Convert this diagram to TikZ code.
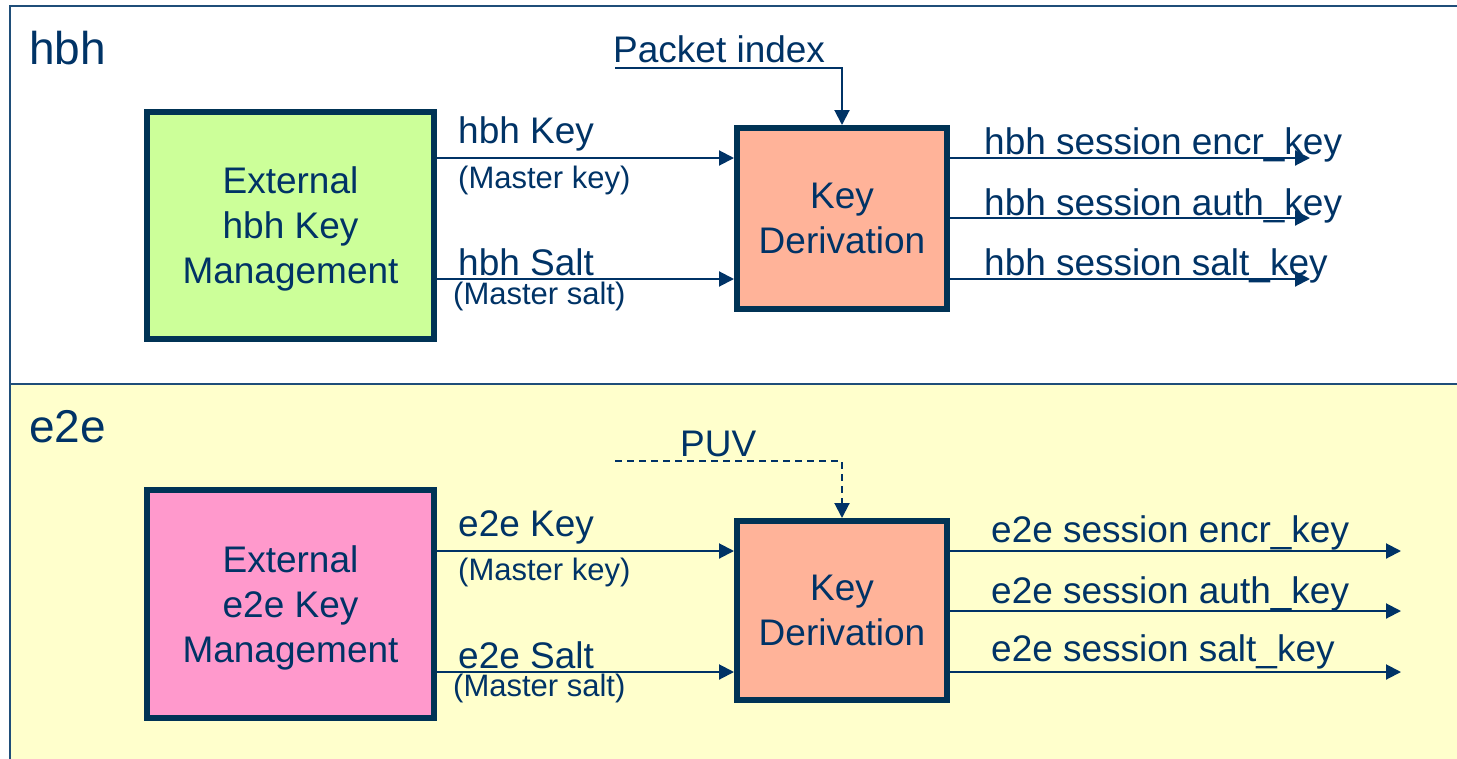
\documentclass[tikz,border=0pt]{standalone}
\usepackage{fontspec}
\setmainfont{Liberation Sans}
\usetikzlibrary{arrows.meta}
\definecolor{navy}{HTML}{003366}
\definecolor{boxline}{HTML}{003355}
\definecolor{panelline}{HTML}{1F4E79}
\definecolor{paleyellow}{HTML}{FFFFCC}
\definecolor{limegreen}{HTML}{CCFF99}
\definecolor{pinkfill}{HTML}{FF99CC}
\definecolor{peach}{HTML}{FFB399}
\begin{document}
\begin{tikzpicture}[x=1pt,y=-1pt,
  big/.style={font=\fontsize{37}{45}\selectfont, text=navy, inner sep=0pt},
  title/.style={font=\fontsize{46}{50}\selectfont, text=navy, inner sep=0pt},
  small/.style={font=\fontsize{31}{35}\selectfont, text=navy, inner sep=0pt},
  block/.style={draw=boxline, line width=6pt, align=center, big},
  arr/.style={draw=navy, line width=2pt, -{Triangle[length=15pt,width=15pt]}},
  dasharr/.style={arr, dash pattern=on 7pt off 5pt},
  panel/.style={draw=panelline, line width=1.5pt}]
\useasboundingbox (0,0) rectangle (1457,758);
\clip (0,0) rectangle (1457,758);
\fill[white] (0,0) rectangle (1457,758);
% panels
\draw[panel, fill=white] (10,6) rectangle (1475,384);
\draw[panel, fill=paleyellow] (10,384) rectangle (1475,775);
\node[title, anchor=base west] (t1) at (29,64) {hbh};
\node[title, anchor=base west] (t2) at (29,442) {e2e};

% ---------- hbh ----------
\node[block, fill=limegreen, minimum width=287pt, minimum height=227pt, text depth=0pt] (ext1) at (290.5,225.5) {External\\hbh Key\\Management};
\node[block, fill=peach, minimum width=210pt, minimum height=181pt] (kd1) at (842,218.5) {Key\\Derivation};
\coordinate (yk1) at (0,158);
\coordinate (ys1) at (0,279);
\draw[arr] (ext1.east |- yk1) -- (kd1.west |- yk1);
\draw[arr] (ext1.east |- ys1) -- (kd1.west |- ys1);
\node[big, anchor=base west] (lk1) at (458,143) {hbh Key};
\node[small, anchor=base west] (lm1) at (458,188) {(Master key)};
\node[big, anchor=base west] (ls1) at (458,275) {hbh Salt};
\node[small, anchor=base west] (lms1) at (453,304) {(Master salt)};
% packet index
\node[big, anchor=base west] (pi) at (613,62) {Packet index};
\coordinate (pistart) at (615,68);
\draw[arr] (pistart) -| (kd1.north);
% outputs
\coordinate (o1a) at (1310,158);
\coordinate (o1b) at (1310,218);
\coordinate (o1c) at (1310,279);
\draw[arr] (kd1.east |- o1a) -- (o1a);
\draw[arr] (kd1.east |- o1b) -- (o1b);
\draw[arr] (kd1.east |- o1c) -- (o1c);
\node[big, anchor=base west] (oa1) at (984,154) {hbh session encr\_key};
\node[big, anchor=base west] (ob1) at (984,215) {hbh session auth\_key};
\node[big, anchor=base west] (oc1) at (984,275) {hbh session salt\_key};

% ---------- e2e ----------
\node[block, fill=pinkfill, minimum width=287pt, minimum height=228pt, text depth=0pt] (ext2) at (290.5,604) {External\\e2e Key\\Management};
\node[block, fill=peach, minimum width=210pt, minimum height=179pt] (kd2) at (842,610.5) {Key\\Derivation};
\coordinate (yk2) at (0,551);
\coordinate (ys2) at (0,672);
\draw[arr] (ext2.east |- yk2) -- (kd2.west |- yk2);
\draw[arr] (ext2.east |- ys2) -- (kd2.west |- ys2);
\node[big, anchor=base west] (lk2) at (458,536) {e2e Key};
\node[small, anchor=base west] (lm2) at (458,580) {(Master key)};
\node[big, anchor=base west] (ls2) at (458,668) {e2e Salt};
\node[small, anchor=base west] (lms2) at (453,696) {(Master salt)};
% PUV
\node[big, anchor=base west] (puv) at (680,456) {PUV};
\coordinate (puvstart) at (615,461);
\draw[dasharr] (puvstart) -| (kd2.north);
% outputs
\coordinate (o2a) at (1401,551);
\coordinate (o2b) at (1401,611);
\coordinate (o2c) at (1401,672);
\draw[arr] (kd2.east |- o2a) -- (o2a);
\draw[arr] (kd2.east |- o2b) -- (o2b);
\draw[arr] (kd2.east |- o2c) -- (o2c);
\node[big, anchor=base west] (oa2) at (991,542) {e2e session encr\_key};
\node[big, anchor=base west] (ob2) at (991,603) {e2e session auth\_key};
\node[big, anchor=base west] (oc2) at (991,661) {e2e session salt\_key};
\end{tikzpicture}
\end{document}
